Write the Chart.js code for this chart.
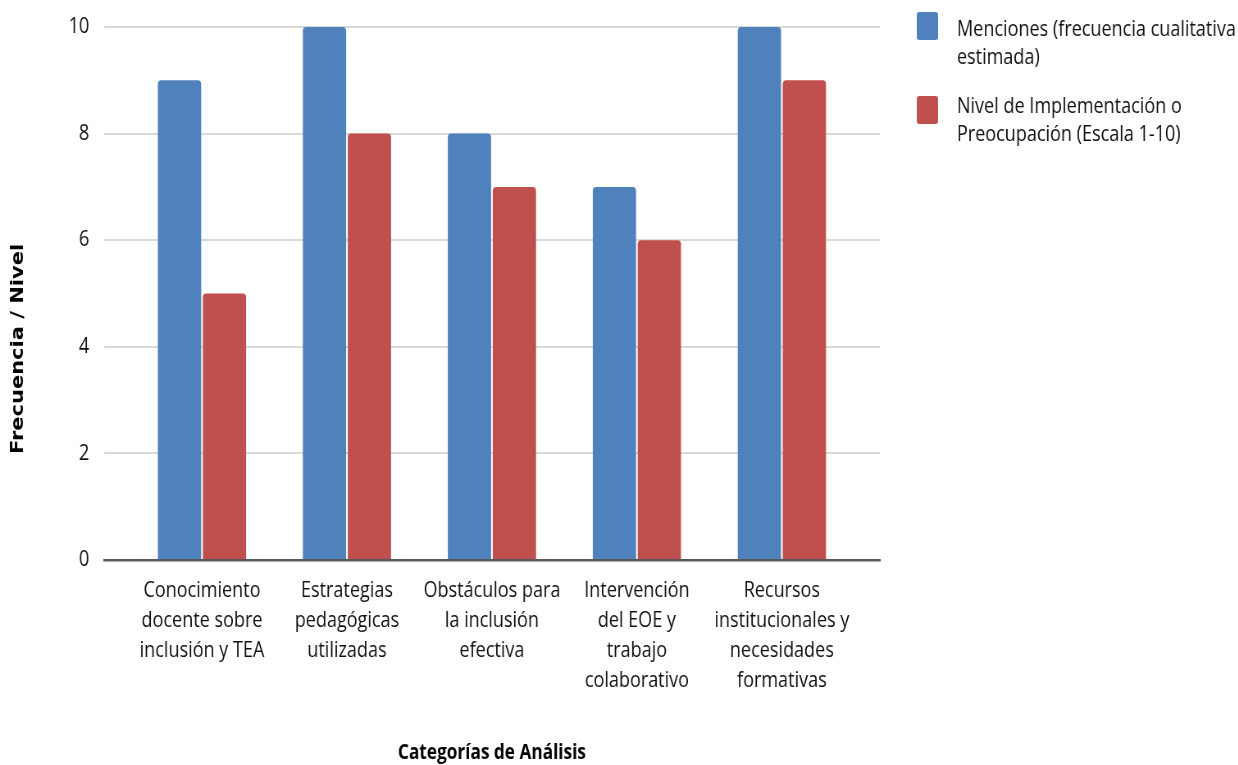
<!DOCTYPE html>
<html lang="es">
<head>
<meta charset="utf-8">
<title>Categorías de Análisis</title>
<script src="https://cdn.jsdelivr.net/npm/chart.js@4.4.1/dist/chart.umd.min.js"></script>
<style>
  html, body { margin: 0; padding: 0; background: #fff; overflow: hidden; }
  /* the reference is horizontally squeezed, so draw wide and compress */
  #wrap { width: 1510px; height: 765px; transform: scaleX(0.82); transform-origin: 0 0; }
</style>
</head>
<body>
<div id="wrap"><canvas id="chart" width="1510" height="765"></canvas></div>
<script>
const categories = [
  ["Conocimiento", "docente sobre", "inclusión y TEA"],
  ["Estrategias", "pedagógicas", "utilizadas"],
  ["Obstáculos para", "la inclusión", "efectiva"],
  ["Intervención", "del EOE y", "trabajo", "colaborativo"],
  ["Recursos", "institucionales y", "necesidades", "formativas"],
];
const menciones = [9, 10, 8, 7, 10];
const nivel = [5, 8, 7, 6, 9];
const seriesNames = [
  ["Menciones (frecuencia cualitativa", "estimada)"],
  ["Nivel de Implementación o", "Preocupación (Escala 1-10)"],
];
const seriesColors = ["#4f81bd", "#c0504d"];
const xTitle = "Categorías de Análisis";
const yTitle = "Frecuencia / Nivel";

const FONT = "'Open Sans', 'Noto Sans', sans-serif";

const titlesPlugin = {
  id: "axisTitles",
  afterDraw(chart) {
    const { ctx, chartArea } = chart;
    ctx.save();
    ctx.fillStyle = "#000";
    ctx.textAlign = "center";
    ctx.textBaseline = "alphabetic";
    ctx.font = "bold 21px " + FONT;
    ctx.fillText(xTitle, (chartArea.left + chartArea.right) / 2, 759);
    ctx.translate(23, 349);
    ctx.rotate(-Math.PI / 2);
    ctx.textBaseline = "middle";
    ctx.font = "bold 21px 'DejaVu Sans', sans-serif";
    ctx.fillText(yTitle, 0, 0);
    ctx.restore();
  },
};

const legendPlugin = {
  id: "sideLegend",
  afterDraw(chart) {
    const ctx = chart.ctx;
    const x = chart.chartArea.right + 45;
    ctx.save();
    ctx.font = "22px " + FONT;
    ctx.textAlign = "left";
    ctx.textBaseline = "alphabetic";
    chart.data.datasets.forEach((ds, i) => {
      ctx.fillStyle = ds.backgroundColor;
      ctx.beginPath();
      ctx.roundRect(x, 12 + i * 84, 26, 28, 3);
      ctx.fill();
      ctx.fillStyle = "#111";
      seriesNames[i].forEach((line, j) => {
        ctx.fillText(line, x + 49, 36 + i * 77 + j * 27.5);
      });
    });
    ctx.restore();
  },
};

const toPoints = (vals) => vals.map((v, i) => ({ x: i, y: v }));

new Chart(document.getElementById("chart"), {
  type: "bar",
  data: {
    datasets: [
      { label: seriesNames[0].join(" "), data: toPoints(menciones), backgroundColor: seriesColors[0] },
      { label: seriesNames[1].join(" "), data: toPoints(nivel), backgroundColor: seriesColors[1] },
    ],
  },
  options: {
    responsive: false,
    animation: false,
    layout: { padding: { top: 27, right: 437, bottom: 0, left: 0 } },
    datasets: {
      bar: {
        categoryPercentage: 0.62,
        barPercentage: 0.963,
        borderRadius: 4,
        borderSkipped: "start",
      },
    },
    plugins: {
      legend: { display: false },
      tooltip: { enabled: false },
    },
    scales: {
      x: {
        type: "linear",
        min: -0.676,
        max: 4.676,
        offset: false,
        grid: { display: false, drawTicks: false },
        border: { display: true, color: "#595959", width: 2.5 },
        afterBuildTicks: (s) => {
          s.ticks = categories.map((_, i) => ({ value: i }));
        },
        ticks: {
          callback: (v, i) => categories[i],
          font: { family: FONT, size: 22, lineHeight: 1.36 },
          color: "#111",
          padding: 16,
          maxRotation: 0,
          autoSkip: false,
        },
        afterFit: (s) => {
          s.height = 205;
          s.paddingTop = 0;
          s.paddingBottom = 0;
        },
      },
      y: {
        min: 0,
        max: 10,
        grid: { color: "#d9d9d9", lineWidth: 2, drawTicks: false },
        border: { display: false },
        ticks: {
          stepSize: 2,
          font: { family: FONT, size: 22 },
          color: "#111",
          padding: 18,
        },
        afterFit: (s) => {
          s.width = 126.8;
          s.paddingTop = 0;
          s.paddingBottom = 0;
        },
      },
    },
  },
  plugins: [titlesPlugin, legendPlugin],
});
</script>
</body>
</html>
